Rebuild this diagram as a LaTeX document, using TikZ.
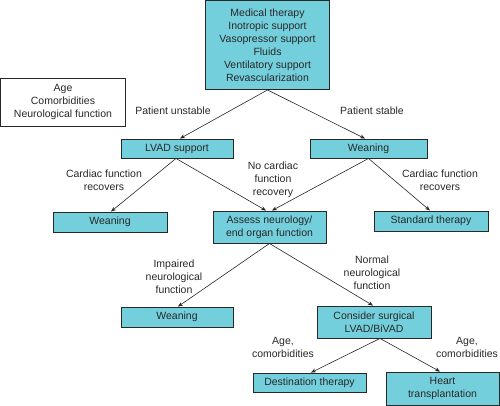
\documentclass[tikz,border=0pt]{standalone}
\usepackage{fontspec}
\setmainfont{Liberation Sans}
\usetikzlibrary{arrows.meta}
\definecolor{boxfill}{RGB}{116,207,220}
\definecolor{ink}{RGB}{40,40,40}
\begin{document}
\begin{tikzpicture}[x=1pt,y=-1pt,
  font=\fontsize{10.5}{13}\selectfont,
  box/.style={draw=ink,line width=0.9pt,fill=boxfill,text=ink,align=center,inner sep=0pt,rectangle},
  plainbox/.style={draw=ink,line width=0.9pt,fill=white,text=ink,align=center,inner sep=0pt,rectangle},
  lbl/.style={text=ink,align=center,inner sep=0pt},
  arr/.style={draw=ink,line width=0.6pt,-{Stealth[length=5pt,width=4pt]}}]
\useasboundingbox (0,0) rectangle (500,405);
% boxes
\node[box,minimum width=124pt,minimum height=89pt] (top) at (267.5,45) {Medical therapy\\Inotropic support\\Vasopressor support\\Fluids\\Ventilatory support\\Revascularization};
\node[plainbox,minimum width=125pt,minimum height=48pt] (age) at (63,102) {Age\\Comorbidities\\Neurological function};
\node[box,minimum width=112pt,minimum height=19pt] (lvad) at (177,148.5) {LVAD support};
\node[box,minimum width=117pt,minimum height=19pt] (wean1) at (368.5,148.5) {Weaning};
\node[box,minimum width=114pt,minimum height=20pt] (wean2) at (110,222) {Weaning};
\node[box,minimum width=113pt,minimum height=32pt] (assess) at (269.5,227) {Assess neurology/\\end organ function};
\node[box,minimum width=114pt,minimum height=20pt] (std) at (431,221) {Standard therapy};
\node[box,minimum width=112pt,minimum height=20pt] (wean3) at (177,317) {Weaning};
\node[box,minimum width=114pt,minimum height=32pt] (cons) at (374,322) {Consider surgical\\LVAD/BiVAD};
\node[box,minimum width=113pt,minimum height=19pt] (dest) at (309.5,382.5) {Destination therapy};
\node[box,minimum width=113pt,minimum height=33pt] (heart) at (442.5,388.5) {Heart\\transplantation};
% labels
\node[lbl] (lunst) at (173,111) {Patient unstable};
\node[lbl] (lstab) at (372,111) {Patient stable};
\node[lbl] (lcfr1) at (104,180) {Cardiac function\\recovers};
\node[lbl] (lnocf) at (273,180) {No cardiac\\function\\recovery};
\node[lbl] (lcfr2) at (440,180) {Cardiac function\\recovers};
\node[lbl] (limp) at (174,277) {Impaired\\neurological\\function};
\node[lbl] (lnorm) at (372,273) {Normal\\neurological\\function};
\node[lbl] (lage1) at (283,347.5) {Age,\\comorbidities};
\node[lbl] (lage2) at (467,347.5) {Age,\\comorbidities};
% arrows
\draw[arr] (top.south) -- ([xshift=3pt]lvad.north);
\draw[arr] (top.south) -- ([xshift=-3.5pt]wean1.north);
\draw[arr] ([xshift=-1pt]lvad.south) -- ([xshift=1pt]wean2.north);
\draw[arr] ([xshift=-1pt]lvad.south) -- ([xshift=-3.5pt]assess.north);
\draw[arr] (wean1.south) -- ([xshift=2.5pt]assess.north);
\draw[arr] (wean1.south) -- ([xshift=-1pt]std.north);
\draw[arr] (assess.south) -- ([xshift=1pt]wean3.north);
\draw[arr] (assess.south) -- ([xshift=-1pt]cons.north);
\draw[arr] ([xshift=6pt]cons.south) -- ([xshift=1.5pt]dest.north);
\draw[arr] ([xshift=6pt]cons.south) -- ([xshift=-2.5pt]heart.north);
\end{tikzpicture}
\end{document}
